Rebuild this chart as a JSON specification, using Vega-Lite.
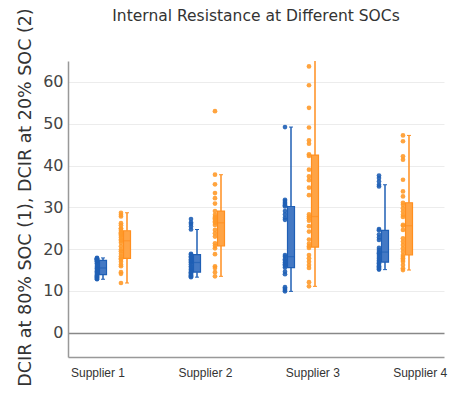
{
  "$schema": "https://vega.github.io/schema/vega-lite/v6.json",
  "width": 376,
  "height": 296,
  "autosize": "none",
  "padding": {"left": 68, "top": 61, "right": 31, "bottom": 42},
  "title": {"text": "Internal Resistance at Different SOCs", "fontSize": 15.5, "font": "DejaVu Sans", "fontWeight": "normal", "color": "#333", "anchor": "middle", "frame": "group", "offset": -17},
  "config": {"view": {"stroke": null}},
  "datasets": {
    "pts": [
      {"supplier": "Supplier 1", "soc": "80%", "v": 12.8}, {"supplier": "Supplier 1", "soc": "80%", "v": 12.9}, {"supplier": "Supplier 1", "soc": "80%", "v": 13.1}, {"supplier": "Supplier 1", "soc": "80%", "v": 13.3}, {"supplier": "Supplier 1", "soc": "80%", "v": 13.5}, {"supplier": "Supplier 1", "soc": "80%", "v": 13.7}, {"supplier": "Supplier 1", "soc": "80%", "v": 13.9}, {"supplier": "Supplier 1", "soc": "80%", "v": 14.1}, {"supplier": "Supplier 1", "soc": "80%", "v": 14.4}, {"supplier": "Supplier 1", "soc": "80%", "v": 14.7}, {"supplier": "Supplier 1", "soc": "80%", "v": 15.0}, {"supplier": "Supplier 1", "soc": "80%", "v": 15.3}, {"supplier": "Supplier 1", "soc": "80%", "v": 15.5}, {"supplier": "Supplier 1", "soc": "80%", "v": 15.8}, {"supplier": "Supplier 1", "soc": "80%", "v": 16.2}, {"supplier": "Supplier 1", "soc": "80%", "v": 16.6}, {"supplier": "Supplier 1", "soc": "80%", "v": 16.9}, {"supplier": "Supplier 1", "soc": "80%", "v": 17.1}, {"supplier": "Supplier 1", "soc": "80%", "v": 17.3}, {"supplier": "Supplier 1", "soc": "80%", "v": 17.4}, {"supplier": "Supplier 1", "soc": "80%", "v": 17.5}, {"supplier": "Supplier 1", "soc": "80%", "v": 17.6}, {"supplier": "Supplier 1", "soc": "80%", "v": 17.7}, {"supplier": "Supplier 1", "soc": "80%", "v": 17.8}, {"supplier": "Supplier 1", "soc": "80%", "v": 17.9},
      {"supplier": "Supplier 1", "soc": "20%", "v": 11.9}, {"supplier": "Supplier 1", "soc": "20%", "v": 14.1}, {"supplier": "Supplier 1", "soc": "20%", "v": 14.5}, {"supplier": "Supplier 1", "soc": "20%", "v": 15.9}, {"supplier": "Supplier 1", "soc": "20%", "v": 16.3}, {"supplier": "Supplier 1", "soc": "20%", "v": 17.0}, {"supplier": "Supplier 1", "soc": "20%", "v": 17.5}, {"supplier": "Supplier 1", "soc": "20%", "v": 17.8}, {"supplier": "Supplier 1", "soc": "20%", "v": 18.3}, {"supplier": "Supplier 1", "soc": "20%", "v": 18.9}, {"supplier": "Supplier 1", "soc": "20%", "v": 19.5}, {"supplier": "Supplier 1", "soc": "20%", "v": 19.9}, {"supplier": "Supplier 1", "soc": "20%", "v": 20.7}, {"supplier": "Supplier 1", "soc": "20%", "v": 21.5}, {"supplier": "Supplier 1", "soc": "20%", "v": 22.0}, {"supplier": "Supplier 1", "soc": "20%", "v": 22.3}, {"supplier": "Supplier 1", "soc": "20%", "v": 22.8}, {"supplier": "Supplier 1", "soc": "20%", "v": 23.2}, {"supplier": "Supplier 1", "soc": "20%", "v": 23.5}, {"supplier": "Supplier 1", "soc": "20%", "v": 23.8}, {"supplier": "Supplier 1", "soc": "20%", "v": 24.0}, {"supplier": "Supplier 1", "soc": "20%", "v": 24.4}, {"supplier": "Supplier 1", "soc": "20%", "v": 24.8}, {"supplier": "Supplier 1", "soc": "20%", "v": 25.0}, {"supplier": "Supplier 1", "soc": "20%", "v": 25.7}, {"supplier": "Supplier 1", "soc": "20%", "v": 26.2}, {"supplier": "Supplier 1", "soc": "20%", "v": 27.8}, {"supplier": "Supplier 1", "soc": "20%", "v": 28.2}, {"supplier": "Supplier 1", "soc": "20%", "v": 28.7},
      {"supplier": "Supplier 2", "soc": "80%", "v": 13.3}, {"supplier": "Supplier 2", "soc": "80%", "v": 13.5}, {"supplier": "Supplier 2", "soc": "80%", "v": 13.7}, {"supplier": "Supplier 2", "soc": "80%", "v": 13.9}, {"supplier": "Supplier 2", "soc": "80%", "v": 14.1}, {"supplier": "Supplier 2", "soc": "80%", "v": 14.3}, {"supplier": "Supplier 2", "soc": "80%", "v": 14.5}, {"supplier": "Supplier 2", "soc": "80%", "v": 14.8}, {"supplier": "Supplier 2", "soc": "80%", "v": 15.1}, {"supplier": "Supplier 2", "soc": "80%", "v": 15.5}, {"supplier": "Supplier 2", "soc": "80%", "v": 15.9}, {"supplier": "Supplier 2", "soc": "80%", "v": 16.4}, {"supplier": "Supplier 2", "soc": "80%", "v": 16.8}, {"supplier": "Supplier 2", "soc": "80%", "v": 17.0}, {"supplier": "Supplier 2", "soc": "80%", "v": 17.3}, {"supplier": "Supplier 2", "soc": "80%", "v": 17.6}, {"supplier": "Supplier 2", "soc": "80%", "v": 18.0}, {"supplier": "Supplier 2", "soc": "80%", "v": 18.3}, {"supplier": "Supplier 2", "soc": "80%", "v": 18.7}, {"supplier": "Supplier 2", "soc": "80%", "v": 18.9}, {"supplier": "Supplier 2", "soc": "80%", "v": 24.7}, {"supplier": "Supplier 2", "soc": "80%", "v": 25.4}, {"supplier": "Supplier 2", "soc": "80%", "v": 26.0}, {"supplier": "Supplier 2", "soc": "80%", "v": 26.4}, {"supplier": "Supplier 2", "soc": "80%", "v": 27.2},
      {"supplier": "Supplier 2", "soc": "20%", "v": 13.5}, {"supplier": "Supplier 2", "soc": "20%", "v": 14.5}, {"supplier": "Supplier 2", "soc": "20%", "v": 15.5}, {"supplier": "Supplier 2", "soc": "20%", "v": 15.9}, {"supplier": "Supplier 2", "soc": "20%", "v": 18.8}, {"supplier": "Supplier 2", "soc": "20%", "v": 20.2}, {"supplier": "Supplier 2", "soc": "20%", "v": 20.8}, {"supplier": "Supplier 2", "soc": "20%", "v": 21.4}, {"supplier": "Supplier 2", "soc": "20%", "v": 23.0}, {"supplier": "Supplier 2", "soc": "20%", "v": 23.8}, {"supplier": "Supplier 2", "soc": "20%", "v": 24.6}, {"supplier": "Supplier 2", "soc": "20%", "v": 25.8}, {"supplier": "Supplier 2", "soc": "20%", "v": 26.3}, {"supplier": "Supplier 2", "soc": "20%", "v": 26.6}, {"supplier": "Supplier 2", "soc": "20%", "v": 27.0}, {"supplier": "Supplier 2", "soc": "20%", "v": 27.4}, {"supplier": "Supplier 2", "soc": "20%", "v": 27.7}, {"supplier": "Supplier 2", "soc": "20%", "v": 28.2}, {"supplier": "Supplier 2", "soc": "20%", "v": 29.1}, {"supplier": "Supplier 2", "soc": "20%", "v": 30.9}, {"supplier": "Supplier 2", "soc": "20%", "v": 32.2}, {"supplier": "Supplier 2", "soc": "20%", "v": 33.4}, {"supplier": "Supplier 2", "soc": "20%", "v": 35.5}, {"supplier": "Supplier 2", "soc": "20%", "v": 37.8}, {"supplier": "Supplier 2", "soc": "20%", "v": 53.0},
      {"supplier": "Supplier 3", "soc": "80%", "v": 9.9}, {"supplier": "Supplier 3", "soc": "80%", "v": 10.2}, {"supplier": "Supplier 3", "soc": "80%", "v": 10.5}, {"supplier": "Supplier 3", "soc": "80%", "v": 10.9}, {"supplier": "Supplier 3", "soc": "80%", "v": 14.0}, {"supplier": "Supplier 3", "soc": "80%", "v": 14.6}, {"supplier": "Supplier 3", "soc": "80%", "v": 15.6}, {"supplier": "Supplier 3", "soc": "80%", "v": 16.0}, {"supplier": "Supplier 3", "soc": "80%", "v": 16.4}, {"supplier": "Supplier 3", "soc": "80%", "v": 16.8}, {"supplier": "Supplier 3", "soc": "80%", "v": 17.2}, {"supplier": "Supplier 3", "soc": "80%", "v": 17.6}, {"supplier": "Supplier 3", "soc": "80%", "v": 18.2}, {"supplier": "Supplier 3", "soc": "80%", "v": 18.6}, {"supplier": "Supplier 3", "soc": "80%", "v": 27.0}, {"supplier": "Supplier 3", "soc": "80%", "v": 27.5}, {"supplier": "Supplier 3", "soc": "80%", "v": 28.3}, {"supplier": "Supplier 3", "soc": "80%", "v": 29.1}, {"supplier": "Supplier 3", "soc": "80%", "v": 30.2}, {"supplier": "Supplier 3", "soc": "80%", "v": 30.5}, {"supplier": "Supplier 3", "soc": "80%", "v": 30.8}, {"supplier": "Supplier 3", "soc": "80%", "v": 31.1}, {"supplier": "Supplier 3", "soc": "80%", "v": 31.5}, {"supplier": "Supplier 3", "soc": "80%", "v": 31.8}, {"supplier": "Supplier 3", "soc": "80%", "v": 49.2},
      {"supplier": "Supplier 3", "soc": "20%", "v": 11.1}, {"supplier": "Supplier 3", "soc": "20%", "v": 12.1}, {"supplier": "Supplier 3", "soc": "20%", "v": 15.5}, {"supplier": "Supplier 3", "soc": "20%", "v": 16.2}, {"supplier": "Supplier 3", "soc": "20%", "v": 17.0}, {"supplier": "Supplier 3", "soc": "20%", "v": 17.8}, {"supplier": "Supplier 3", "soc": "20%", "v": 18.6}, {"supplier": "Supplier 3", "soc": "20%", "v": 20.3}, {"supplier": "Supplier 3", "soc": "20%", "v": 20.7}, {"supplier": "Supplier 3", "soc": "20%", "v": 21.3}, {"supplier": "Supplier 3", "soc": "20%", "v": 22.3}, {"supplier": "Supplier 3", "soc": "20%", "v": 24.2}, {"supplier": "Supplier 3", "soc": "20%", "v": 25.5}, {"supplier": "Supplier 3", "soc": "20%", "v": 26.8}, {"supplier": "Supplier 3", "soc": "20%", "v": 27.4}, {"supplier": "Supplier 3", "soc": "20%", "v": 27.8}, {"supplier": "Supplier 3", "soc": "20%", "v": 28.3}, {"supplier": "Supplier 3", "soc": "20%", "v": 32.9}, {"supplier": "Supplier 3", "soc": "20%", "v": 34.7}, {"supplier": "Supplier 3", "soc": "20%", "v": 36.5}, {"supplier": "Supplier 3", "soc": "20%", "v": 37.4}, {"supplier": "Supplier 3", "soc": "20%", "v": 39.0}, {"supplier": "Supplier 3", "soc": "20%", "v": 42.3}, {"supplier": "Supplier 3", "soc": "20%", "v": 42.7}, {"supplier": "Supplier 3", "soc": "20%", "v": 45.2}, {"supplier": "Supplier 3", "soc": "20%", "v": 46.0}, {"supplier": "Supplier 3", "soc": "20%", "v": 49.1}, {"supplier": "Supplier 3", "soc": "20%", "v": 53.8}, {"supplier": "Supplier 3", "soc": "20%", "v": 59.2}, {"supplier": "Supplier 3", "soc": "20%", "v": 63.7}, {"supplier": "Supplier 3", "soc": "20%", "v": 66.5},
      {"supplier": "Supplier 4", "soc": "80%", "v": 15.1}, {"supplier": "Supplier 4", "soc": "80%", "v": 15.3}, {"supplier": "Supplier 4", "soc": "80%", "v": 15.6}, {"supplier": "Supplier 4", "soc": "80%", "v": 15.9}, {"supplier": "Supplier 4", "soc": "80%", "v": 16.2}, {"supplier": "Supplier 4", "soc": "80%", "v": 16.6}, {"supplier": "Supplier 4", "soc": "80%", "v": 16.9}, {"supplier": "Supplier 4", "soc": "80%", "v": 17.3}, {"supplier": "Supplier 4", "soc": "80%", "v": 17.7}, {"supplier": "Supplier 4", "soc": "80%", "v": 18.1}, {"supplier": "Supplier 4", "soc": "80%", "v": 18.6}, {"supplier": "Supplier 4", "soc": "80%", "v": 19.0}, {"supplier": "Supplier 4", "soc": "80%", "v": 19.3}, {"supplier": "Supplier 4", "soc": "80%", "v": 19.8}, {"supplier": "Supplier 4", "soc": "80%", "v": 20.3}, {"supplier": "Supplier 4", "soc": "80%", "v": 22.2}, {"supplier": "Supplier 4", "soc": "80%", "v": 22.8}, {"supplier": "Supplier 4", "soc": "80%", "v": 23.5}, {"supplier": "Supplier 4", "soc": "80%", "v": 24.5}, {"supplier": "Supplier 4", "soc": "80%", "v": 24.8}, {"supplier": "Supplier 4", "soc": "80%", "v": 35.0}, {"supplier": "Supplier 4", "soc": "80%", "v": 35.4}, {"supplier": "Supplier 4", "soc": "80%", "v": 36.2}, {"supplier": "Supplier 4", "soc": "80%", "v": 37.0}, {"supplier": "Supplier 4", "soc": "80%", "v": 37.6},
      {"supplier": "Supplier 4", "soc": "20%", "v": 15.0}, {"supplier": "Supplier 4", "soc": "20%", "v": 15.4}, {"supplier": "Supplier 4", "soc": "20%", "v": 16.2}, {"supplier": "Supplier 4", "soc": "20%", "v": 17.0}, {"supplier": "Supplier 4", "soc": "20%", "v": 17.4}, {"supplier": "Supplier 4", "soc": "20%", "v": 17.8}, {"supplier": "Supplier 4", "soc": "20%", "v": 18.2}, {"supplier": "Supplier 4", "soc": "20%", "v": 18.6}, {"supplier": "Supplier 4", "soc": "20%", "v": 19.4}, {"supplier": "Supplier 4", "soc": "20%", "v": 20.2}, {"supplier": "Supplier 4", "soc": "20%", "v": 21.0}, {"supplier": "Supplier 4", "soc": "20%", "v": 21.8}, {"supplier": "Supplier 4", "soc": "20%", "v": 22.6}, {"supplier": "Supplier 4", "soc": "20%", "v": 24.6}, {"supplier": "Supplier 4", "soc": "20%", "v": 25.6}, {"supplier": "Supplier 4", "soc": "20%", "v": 25.8}, {"supplier": "Supplier 4", "soc": "20%", "v": 27.7}, {"supplier": "Supplier 4", "soc": "20%", "v": 28.2}, {"supplier": "Supplier 4", "soc": "20%", "v": 29.0}, {"supplier": "Supplier 4", "soc": "20%", "v": 29.8}, {"supplier": "Supplier 4", "soc": "20%", "v": 30.6}, {"supplier": "Supplier 4", "soc": "20%", "v": 31.1}, {"supplier": "Supplier 4", "soc": "20%", "v": 32.6}, {"supplier": "Supplier 4", "soc": "20%", "v": 33.8}, {"supplier": "Supplier 4", "soc": "20%", "v": 36.6}, {"supplier": "Supplier 4", "soc": "20%", "v": 41.4}, {"supplier": "Supplier 4", "soc": "20%", "v": 42.2}, {"supplier": "Supplier 4", "soc": "20%", "v": 45.8}, {"supplier": "Supplier 4", "soc": "20%", "v": 47.2}
    ]
  },
  "data": {"name": "pts"},
  "encoding": {
    "x": {
      "field": "supplier", "type": "nominal",
      "sort": ["Supplier 1", "Supplier 2", "Supplier 3", "Supplier 4"],
      "scale": {"type": "band", "paddingInner": 0.2, "paddingOuter": 0.1},
      "axis": {
        "title": null, "ticks": false, "labelAngle": 0,
        "labelFont": "Liberation Sans", "labelFontSize": 12, "labelColor": "#333",
        "labelPadding": 10, "domainColor": "#999", "domainWidth": 1.5,
        "labelOffset": {"expr": "indexof(['Supplier 1','Supplier 2','Supplier 3','Supplier 4'], datum.value) * 13.4 - 17"}
      }
    },
    "y": {
      "field": "v", "type": "quantitative",
      "scale": {"domain": [-5.8, 65], "nice": false, "zero": false},
      "axis": {
        "title": "DCIR at 80% SOC (1), DCIR at 20% SOC (2)",
        "values": [0, 10, 20, 30, 40, 50, 60],
        "ticks": false,
        "labelFont": "DejaVu Sans", "labelFontSize": 16, "labelColor": "#444", "labelPadding": 5,
        "domainColor": "#999", "domainWidth": 1.5,
        "gridColor": {"condition": {"test": "datum.value === 0", "value": "#888"}, "value": "#ececec"},
        "gridWidth": {"condition": {"test": "datum.value === 0", "value": 1.5}, "value": 1},
        "titleFont": "DejaVu Sans", "titleFontSize": 17.5, "titleFontWeight": "normal", "titleColor": "#333",
        "titleAngle": -90, "titleX": -43, "titleY": 136, "titleAlign": "center", "titleBaseline": "middle"
      }
    }
  },
  "layer": [
    {
      "mark": {"type": "circle", "size": 22, "opacity": 0.9, "clip": true},
      "encoding": {
        "xOffset": {"field": "soc", "type": "nominal", "scale": {"type": "band", "domain": ["80%", "20%"], "paddingInner": 0, "paddingOuter": 0.567, "align": 0.279}},
        "color": {"field": "soc", "type": "nominal", "scale": {"domain": ["80%", "20%"], "range": ["#1f5fb5", "#ff9a2a"]}, "legend": null}
      }
    },
    {
      "transform": [{"filter": "datum.soc === '80%'"}],
      "mark": {
        "type": "boxplot", "extent": 1.5, "size": 7, "clip": true, "outliers": false,
        "box": {"color": "#4479c4", "stroke": "#1f5fb5", "strokeWidth": 1.2},
        "median": {"color": "#1f5fb5", "thickness": 1.2},
        "rule": {"color": "#1f5fb5", "strokeWidth": 1.5},
        "ticks": {"color": "#1f5fb5", "size": 4}
      },
      "encoding": {
        "xOffset": {"field": "soc", "type": "nominal", "scale": {"type": "band", "domain": ["80%", "20%"], "paddingInner": 0, "paddingOuter": 0.567, "align": 0.5}}
      }
    },
    {
      "transform": [{"filter": "datum.soc === '20%'"}],
      "mark": {
        "type": "boxplot", "extent": 1.5, "size": 7, "clip": true, "outliers": false,
        "box": {"color": "#ffa445", "stroke": "#ff8f1f", "strokeWidth": 1.2},
        "median": {"color": "#ff8f1f", "thickness": 1.2},
        "rule": {"color": "#ff8f1f", "strokeWidth": 1.5},
        "ticks": {"color": "#ff8f1f", "size": 4}
      },
      "encoding": {
        "xOffset": {"field": "soc", "type": "nominal", "scale": {"type": "band", "domain": ["80%", "20%"], "paddingInner": 0, "paddingOuter": 0.567, "align": 0.5}}
      }
    }
  ],
  "resolve": {"scale": {"xOffset": "independent"}}
}
